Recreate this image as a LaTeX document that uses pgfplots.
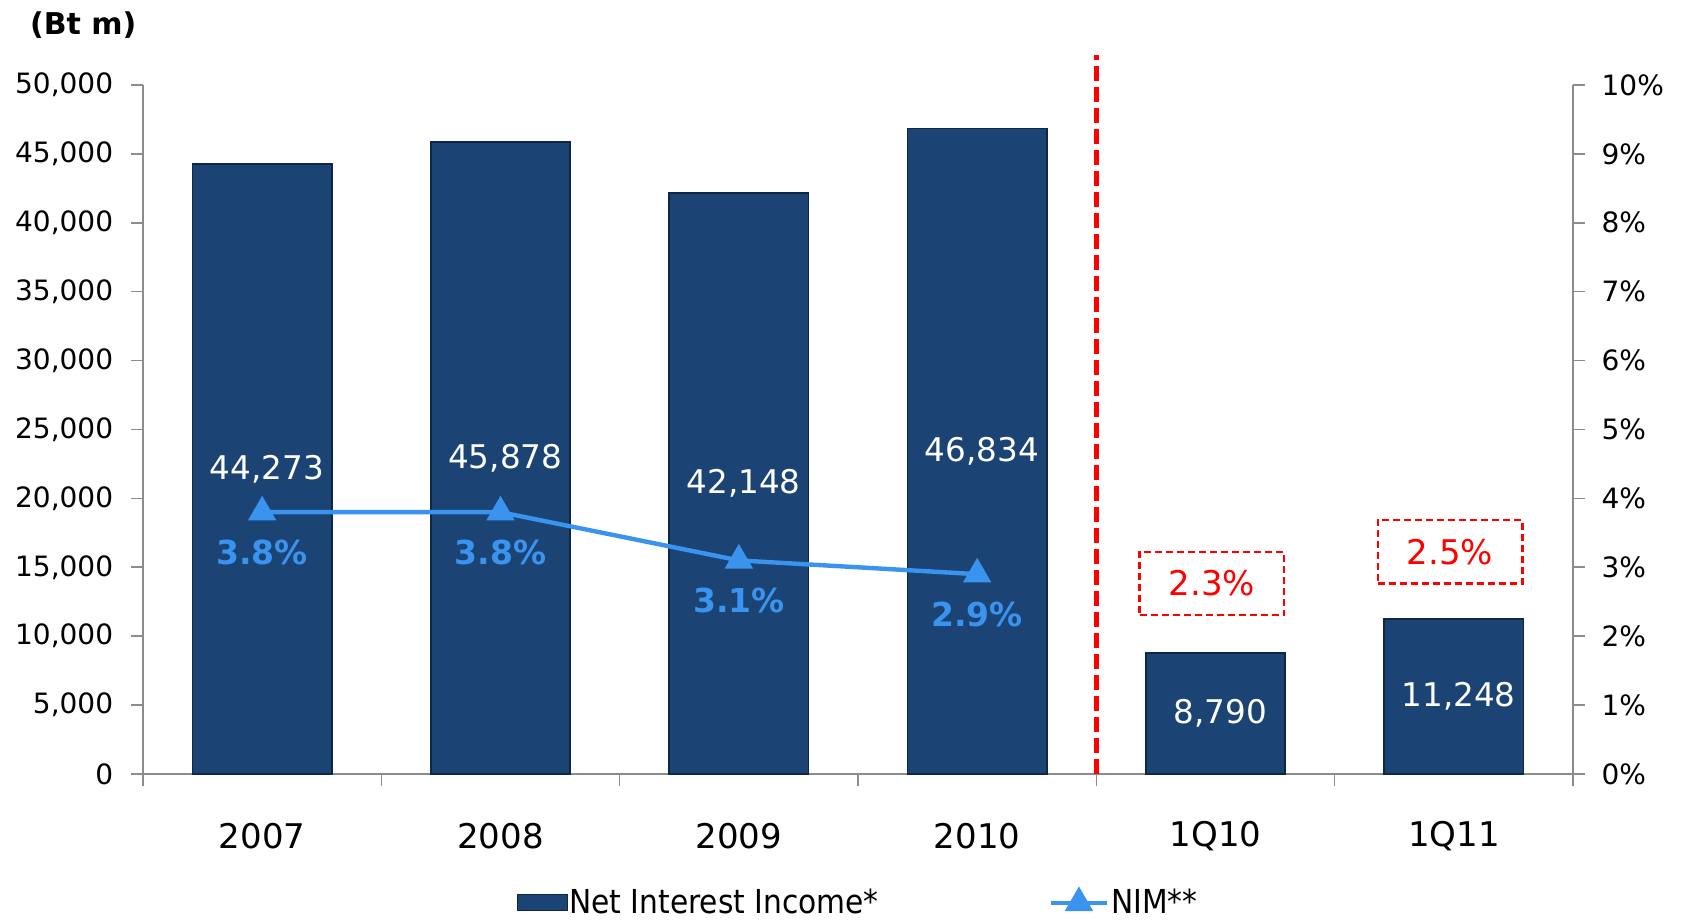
\documentclass[border=0pt]{standalone}
\usepackage{pgfplots}
\pgfplotsset{compat=1.18}
\usepackage{fontspec}
\setmainfont{DejaVu Sans}
\newfontfamily\condfont{DejaVu Sans Condensed}
\definecolor{barmid}{HTML}{1B4474}
\definecolor{baredge}{HTML}{0F2747}
\definecolor{nimblue}{HTML}{3A93EE}
\definecolor{axisgray}{HTML}{8C8C8C}
\pgfplotsset{nimlegend/.style={legend image code/.code={\draw[mark repeat=2,mark phase=2,##1] plot coordinates {(0pt,0pt) (14pt,0pt) (28pt,0pt)};}}}
\begin{document}
\begin{tikzpicture}
\useasboundingbox (-71.5pt,-73.5pt) rectangle (769.5pt,387pt);
\begin{axis}[
  at={(0pt,0pt)}, anchor=south west,
  scale only axis, width=715pt, height=344.5pt,
  xmin=-0.5, xmax=5.5, ymin=0, ymax=50000,
  clip=false,
  axis x line*=bottom, axis y line*=left,
  axis line style={axisgray, line width=0.8pt, -},
  tick align=outside,
  major tick length=6pt,
  tick style={axisgray, line width=0.8pt},
  xtick={-0.5,0.5,1.5,2.5,3.5,4.5,5.5},
  xticklabels={},
  extra x ticks={0,1,2,3,4,5},
  extra x tick labels={2007,2008,2009,2010,1Q10,1Q11},
  extra x tick style={major tick length=0pt,
    xticklabel style={font=\fontsize{17pt}{19pt}\selectfont, anchor=center, yshift=-31pt}},
  ytick={0,5000,...,50000},
  scaled y ticks=false,
  yticklabel style={font=\fontsize{14pt}{16pt}\selectfont, anchor=east, xshift=-5.4pt,
    /pgf/number format/.cd, fixed, 1000 sep={,}, assume math mode=true},
]
\addplot[ybar, bar width=0.585, fill=barmid, draw=baredge, line width=0.8pt]
  coordinates {(0,44273) (1,45878) (2,42148) (3,46834) (4,8790) (5,11248)};

\draw[red, line width=2.5pt, dash pattern=on 7.5pt off 3pt] (axis cs:3.5,0) -- (axis cs:3.5,52180);

\begin{scope}[every node/.style={text=white, font=\fontsize{16.3pt}{18pt}\selectfont, anchor=center}]
\node at (axis cs:0.02,22136) {44,273};
\node at (axis cs:1.02,22939) {45,878};
\node at (axis cs:2.02,21074) {42,148};
\node at (axis cs:3.02,23417) {46,834};
\node at (axis cs:4.02,4395) {8,790};
\node at (axis cs:5.02,5624) {11,248};
\end{scope}

\node[draw=red, line width=1.1pt, dash pattern=on 3.5pt off 2pt, minimum width=72.4pt, minimum height=31.6pt,
  text=red, font=\fontsize{17pt}{19pt}\selectfont] at (axis cs:3.985,13824) {2.3\%};
\node[draw=red, line width=1.1pt, dash pattern=on 3.5pt off 2pt, minimum width=72.4pt, minimum height=31.6pt,
  text=red, font=\fontsize{17pt}{19pt}\selectfont] at (axis cs:4.984,16120) {2.5\%};

\node[anchor=west, font=\bfseries\fontsize{15pt}{17pt}\selectfont] at ([xshift=-60pt,yshift=30pt]rel axis cs:0,1) {(Bt m)};
\end{axis}

\begin{axis}[
  at={(0pt,0pt)}, anchor=south west,
  scale only axis, width=715pt, height=344.5pt,
  xmin=-0.5, xmax=5.5, ymin=0, ymax=10,
  clip=false,
  axis x line=none, axis y line*=right,
  axis line style={axisgray, line width=0.8pt, -},
  tick align=outside,
  major tick length=6pt,
  tick style={axisgray, line width=0.8pt},
  ytick={0,1,...,10},
  yticklabel={\pgfmathprintnumber[assume math mode=true]{\tick}\%},
  yticklabel style={font=\fontsize{14pt}{16pt}\selectfont, anchor=west, xshift=4.8pt},
  legend style={draw=none, fill=none, at={(0.5,-0.187)}, anchor=center,
    font=\condfont\fontsize{16.5pt}{18pt}\selectfont, legend columns=2,
    inner sep=0pt, nodes={inner sep=1pt},
    /tikz/every even column/.append style={column sep=84pt},
    cells={anchor=west}},
]
\addlegendimage{legend image code/.code={\draw[fill=barmid, draw=baredge] (0pt,-4pt) rectangle (25pt,4pt);}}
\addlegendentry{Net Interest Income*}
\addplot[nimblue, line width=2.2pt, mark=triangle*, mark size=6pt, mark options={solid}, nimlegend,
  nodes near coords, point meta=explicit symbolic,
  every node near coord/.append style={anchor=center, yshift=-20pt, text=nimblue,
    font=\bfseries\fontsize{16.5pt}{18pt}\selectfont}]
  coordinates {(0,3.8)[3.8\%] (1,3.8)[3.8\%] (2,3.1)[3.1\%] (3,2.9)[2.9\%]};
\addlegendentry{NIM**}
\end{axis}
\end{tikzpicture}
\end{document}
